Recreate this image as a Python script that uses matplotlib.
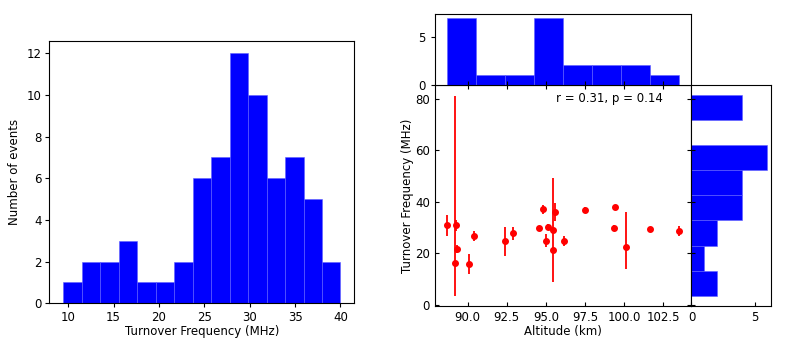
import numpy as np
import matplotlib
matplotlib.use("Agg")
import matplotlib.pyplot as plt

plt.rcParams["font.size"] = 8.5

# left histogram: turnover frequency distribution
freq_counts = [1, 2, 2, 3, 1, 1, 2, 6, 7, 12, 10, 6, 7, 5, 2]
freq_range = (9.45, 40.0)

# scatter: altitude vs turnover frequency
altitude = [88.65, 89.18, 89.25, 89.29, 90.06, 90.43, 92.40, 92.87, 94.57, 94.83, 95.02,
            95.17, 95.43, 95.45, 95.56, 96.18, 97.51, 99.42, 99.36, 100.15, 101.65, 103.55]
turnover = [30.9, 16.2, 30.9, 21.8, 16.0, 26.7, 24.6, 27.8, 29.9, 37.1, 24.9,
            30.4, 21.4, 29.1, 36.1, 24.7, 37.0, 37.8, 29.8, 22.4, 29.5, 28.6]
err_lo = [4.0, 12.8, 2.1, 1.5, 3.9, 1.9, 5.8, 2.6, 0.8, 1.7, 2.6,
          1.0, 1.2, 20.3, 3.4, 1.9, 0.8, 0.8, 1.3, 8.4, 0.8, 1.9]
err_hi = [4.0, 64.8, 2.1, 1.5, 3.9, 1.9, 5.8, 2.6, 0.8, 1.7, 2.6,
          1.0, 1.2, 20.3, 3.4, 1.9, 0.8, 0.8, 1.3, 13.5, 0.8, 1.9]

# marginal histograms
alt_counts = [7, 1, 1, 7, 2, 2, 2, 1]
alt_range = (88.65, 103.55)
marg_counts = [2, 1, 2, 4, 4, 6, 0, 4]
marg_range = (3.5, 81.5)

corr_text = "r = 0.31, p = 0.14"


def centers(rng, n):
    e = np.linspace(rng[0], rng[1], n + 1)
    return (e[:-1] + e[1:]) / 2, e


fig = plt.figure(figsize=(7.89, 3.41), dpi=100)
bar_style = dict(color="blue", edgecolor="#6060ff", linewidth=0.4)

# 1. left histogram
ax1 = fig.add_axes([0.0625, 0.1106, 0.3866, 0.770])
c, e = centers(freq_range, len(freq_counts))
ax1.hist(c, bins=e, weights=freq_counts, **bar_style)
ax1.set_xlabel("Turnover Frequency (MHz)", labelpad=1)
ax1.set_ylabel("Number of events")
ax1.set_yticks([0, 2, 4, 6, 8, 10, 12])
ax1.tick_params(length=3, pad=2.5)

# 2. scatter with error bars
ax2 = fig.add_axes([0.5513, 0.1026, 0.3245, 0.648])
ax2.errorbar(altitude, turnover, yerr=[err_lo, err_hi], fmt="o", color="red",
             ecolor="red", markersize=4, elinewidth=1.3, capsize=0)
ax2.set_xlabel("Altitude (km)", labelpad=1)
ax2.set_ylabel("Turnover Frequency (MHz)", labelpad=1)
ax2.set_xticks([90.0, 92.5, 95.0, 97.5, 100.0, 102.5])
ax2.set_yticks([0, 20, 40, 60, 80])
ax2.tick_params(direction="in", top=True, right=True, length=3)
ax2.text(0.89, 0.97, corr_text, transform=ax2.transAxes, ha="right", va="top")

# 3. top marginal histogram
ax3 = fig.add_axes([0.5513, 0.752, 0.3245, 0.206], sharex=ax2)
c, e = centers(alt_range, len(alt_counts))
ax3.hist(c, bins=e, weights=alt_counts, **bar_style)
ax3.set_yticks([0, 5])
ax3.tick_params(axis="x", direction="in", labelbottom=False, length=3)
ax3.tick_params(axis="y", length=3)

# 4. right marginal histogram
ax4 = fig.add_axes([0.8764, 0.1026, 0.1008, 0.648], sharey=ax2)
c, e = centers(marg_range, len(marg_counts))
ax4.hist(c, bins=e, weights=marg_counts, orientation="horizontal", **bar_style)
ax4.set_xticks([0, 5])
ax4.tick_params(direction="in", labelleft=False, length=3)

plt.savefig("out.png", dpi=100)
